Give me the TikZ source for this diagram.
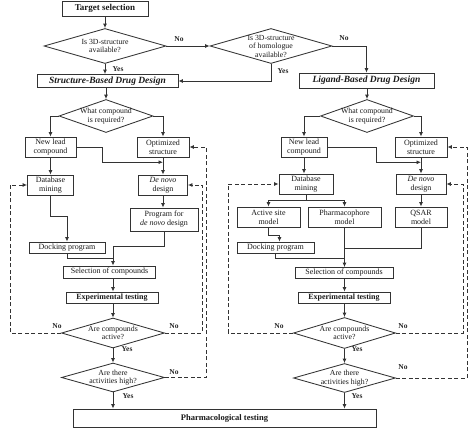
\documentclass[tikz,border=0pt]{standalone}
\usepackage{fontspec}
\setmainfont{Liberation Serif}
\usetikzlibrary{arrows.meta,shapes.geometric,calc}
\begin{document}
\begin{tikzpicture}[x=1pt,y=-1pt,
  line width=0.85pt,
  box/.style={draw=black!80, rectangle, inner sep=0pt, align=center, text=black!90, font=\fontsize{8}{9}\selectfont},
  dia/.style={draw=black!80, diamond, inner sep=0pt},
  dtext/.style={align=center, text=black!90, font=\fontsize{7.8}{8.5}\selectfont, inner sep=0pt},
  lbl/.style={font=\fontsize{7.5}{8}\selectfont\bfseries, inner sep=0pt, text=black!85},
  arr/.style={draw=black!80, -{Latex[length=4.5pt,width=4pt]}},
  ln/.style={draw=black!80},
  dsh/.style={dash pattern=on 4pt off 2.5pt},
]
\useasboundingbox (0,0) rectangle (474,431);

% ---------- top ----------
\node[box, minimum width=86pt, minimum height=15pt, font=\fontsize{9}{10}\selectfont\bfseries] (target) at (105,8.5) {Target selection};
\node[dia, minimum width=122pt, minimum height=35pt, label={[dtext]center:{Is 3D-structure\\available?}}] (d1) at (105,46) {};
\node[dia, minimum width=122pt, minimum height=35pt, label={[dtext]center:{Is 3D-structure\\of homologue\\available?}}] (d2) at (271,46) {};
\node[box, minimum width=141pt, minimum height=13pt, font=\fontsize{9.5}{10}\selectfont\bfseries\itshape] (sbdd) at (107.5,81) {Structure-Based Drug Design};
\node[box, minimum width=135pt, minimum height=15pt, font=\fontsize{9.5}{10}\selectfont\bfseries\itshape] (lbdd) at (366.5,80.5) {Ligand-Based Drug Design};

\draw[arr] (target.south) -- (d1.north);
\draw[arr] (d1.east) -- (d2.west);
\draw[arr] (d1.south) -- (d1.south |- sbdd.north);
\draw[arr] (d2.south) |- (sbdd.east);
\draw[arr] (d2.east) -| (lbdd.north);
\node[lbl] (no0a) at (179,39) {No};
\node[lbl] (no0b) at (344,38) {No};
\node[lbl] (yes0a) at (118,69) {Yes};
\node[lbl] (yes0b) at (283,71) {Yes};

% ---------- left column ----------
\node[dia, minimum width=94pt, minimum height=33pt, label={[dtext]center:{What compound\\is required?}}] (wc1) at (106,116) {};
\draw[arr] (wc1.north |- sbdd.south) -- (wc1.north);
\node[box, minimum width=51pt, minimum height=20pt] (nl1) at (50.5,147) {New lead\\compound};
\node[box, minimum width=52pt, minimum height=20pt] (os1) at (163,147) {Optimized\\structure};
\draw[arr] (wc1.west) -| (nl1.north);
\draw[arr] (wc1.east) -| (os1.north);
\node[box, minimum width=46pt, minimum height=20pt] (db1) at (50.5,185) {Database\\mining};
\node[box, minimum width=49pt, minimum height=20pt] (dn1) at (163,185) {\textit{De novo}\\design};
\draw[arr] (nl1.south) -- (db1.north);
\draw[arr] (os1.south) -- (dn1.north);
\coordinate (k1) at ($(os1.south)!0.28!(dn1.north)$);
\draw[arr] (nl1.east) -- ++(26,0) |- (k1);
\node[box, minimum width=68pt, minimum height=23pt] (pd1) at (164,219.5) {Program for\\\textit{de novo} design};
\draw[arr] (dn1.south) -- (dn1.south |- pd1.north);
\node[box, minimum width=76pt, minimum height=11pt] (dk1) at (67,247.5) {Docking program};
\draw[arr] (db1.south) -- ++(0,21) -| (dk1.north);
\coordinate (j1) at (113,246);
\node[box, minimum width=92pt, minimum height=12pt] (sel1) at (109.5,272) {Selection of compounds};
\draw[ln] (pd1.south) |- (j1);
\draw[ln] (dk1.south) -- ++(0,5) -| (j1);
\draw[arr] (j1) -- (j1 |- sel1.north);
\node[box, minimum width=92pt, minimum height=11pt, font=\fontsize{8}{9}\selectfont\bfseries] (exp1) at (112,297.5) {Experimental testing};
\draw[arr] (j1 |- sel1.south) -- (j1 |- exp1.north);
\node[dia, minimum width=103pt, minimum height=30pt, label={[dtext]center:{Are compounds\\active?}}] (ca1) at (113,333) {};
\draw[arr] (j1 |- exp1.south) -- (ca1.north);
\node[dia, minimum width=103pt, minimum height=29pt, label={[dtext]center:{Are there\\activities high?}}] (ah1) at (113,377.5) {};
\draw[arr] (ca1.south) -- (ah1.north);

\node[box, minimum width=303pt, minimum height=18pt, font=\fontsize{8.5}{10}\selectfont\bfseries] (pharm) at (224.5,418) {Pharmacological testing};
\draw[arr] (ah1.south) -- (ah1.south |- pharm.north);

\coordinate (xa) at (10,0);
\coordinate (xb) at (202,0);
\coordinate (xc) at (206,0);
\draw[arr, dsh] (ca1.west) -- (xa |- ca1.west) -- (xa |- db1.west) -- (db1.west);
\draw[arr, dsh] (ca1.east) -- (xb |- ca1.east) -- (xb |- dn1.east) -- (dn1.east);
\draw[arr, dsh] (ah1.east) -- (xc |- ah1.east) -- (xc |- os1.east) -- (os1.east);

\node[lbl] (no1a) at (57,326) {No};
\node[lbl] (no1b) at (174,326) {No};
\node[lbl] (no1c) at (174,372) {No};
\node[lbl] (yes1a) at (127,349.5) {Yes};
\node[lbl] (yes1b) at (128,396) {Yes};

% ---------- right column ----------
\node[dia, minimum width=93pt, minimum height=33pt, label={[dtext]center:{What compound\\is required?}}] (wc2) at (367,116) {};
\draw[arr] (wc2.north |- lbdd.south) -- (wc2.north);
\node[box, minimum width=46pt, minimum height=20pt] (nl2) at (304,147) {New lead\\compound};
\node[box, minimum width=52pt, minimum height=20pt] (os2) at (421,147) {Optimized\\structure};
\draw[arr] (wc2.west) -| (nl2.north);
\draw[arr] (wc2.east) -| (os2.north);
\node[box, minimum width=54pt, minimum height=20pt] (db2) at (306,184) {Database\\mining};
\node[box, minimum width=50pt, minimum height=20pt] (dn2) at (421,184) {\textit{De novo}\\design};
\draw[arr] (nl2.south) -- (nl2.south |- db2.north);
\draw[arr] (os2.south) -- (dn2.north);
\coordinate (k2) at ($(os2.south)!0.3!(dn2.north)$);
\draw[arr] (nl2.east) -- ++(49,0) |- (k2);
\node[box, minimum width=63pt, minimum height=20pt] (as2) at (268.5,217) {Active site\\model};
\node[box, minimum width=73pt, minimum height=20pt] (ph2) at (344.5,217) {Pharmacophore\\model};
\node[box, minimum width=52pt, minimum height=20pt] (qs2) at (421,217) {QSAR\\model};
\coordinate (s2) at (306,200);
\draw[ln] (db2.south) -- (s2);
\draw[arr] (s2) -| (as2.north);
\draw[arr] (s2) -| (ph2.north);
\draw[arr] (dn2.south) -- (qs2.north);
\node[box, minimum width=77pt, minimum height=11pt] (dk2) at (275.5,247.5) {Docking program};
\draw[arr] (as2.south) -- ++(0,8) -| ($(dk2.north)+(4,0)$);
\coordinate (j2) at (344.5,248);
\node[box, minimum width=98pt, minimum height=11pt] (sel2) at (344,273) {Selection of compounds};
\draw[ln] (ph2.south) -- (j2);
\draw[ln] (qs2.south) |- (j2);
\draw[ln] (dk2.south) -- ++(0,5) -| (j2);
\draw[arr] (j2) -- (j2 |- sel2.north);
\node[box, minimum width=92pt, minimum height=11pt, font=\fontsize{8}{9}\selectfont\bfseries] (exp2) at (344,297.5) {Experimental testing};
\draw[arr] (j2 |- sel2.south) -- (j2 |- exp2.north);
\node[dia, minimum width=102pt, minimum height=31pt, label={[dtext]center:{Are compounds\\active?}}] (ca2) at (344.5,333) {};
\draw[arr] (j2 |- exp2.south) -- (ca2.north);
\node[dia, minimum width=102pt, minimum height=29pt, label={[dtext]center:{Are there\\activities high?}}] (ah2) at (344.5,378) {};
\draw[arr] (ca2.south) -- (ah2.north);
\draw[arr] (ah2.south) -- (ah2.south |- pharm.north);

\coordinate (xd) at (228,0);
\coordinate (xe) at (463,0);
\coordinate (xf) at (467,0);
\draw[arr, dsh] (ca2.west) -- (xd |- ca2.west) -- (xd |- db2.west) -- (db2.west);
\draw[arr, dsh] (ca2.east) -- (xe |- ca2.east) -- (xe |- dn2.east) -- (dn2.east);
\draw[arr, dsh] (ah2.east) -- (xf |- ah2.east) -- (xf |- os2.east) -- (os2.east);

\node[lbl] (no2a) at (279,326) {No};
\node[lbl] (no2b) at (403,326) {No};
\node[lbl] (no2c) at (403,367) {No};
\node[lbl] (yes2a) at (357,349.5) {Yes};
\node[lbl] (yes2b) at (357,396) {Yes};
\end{tikzpicture}
\end{document}
